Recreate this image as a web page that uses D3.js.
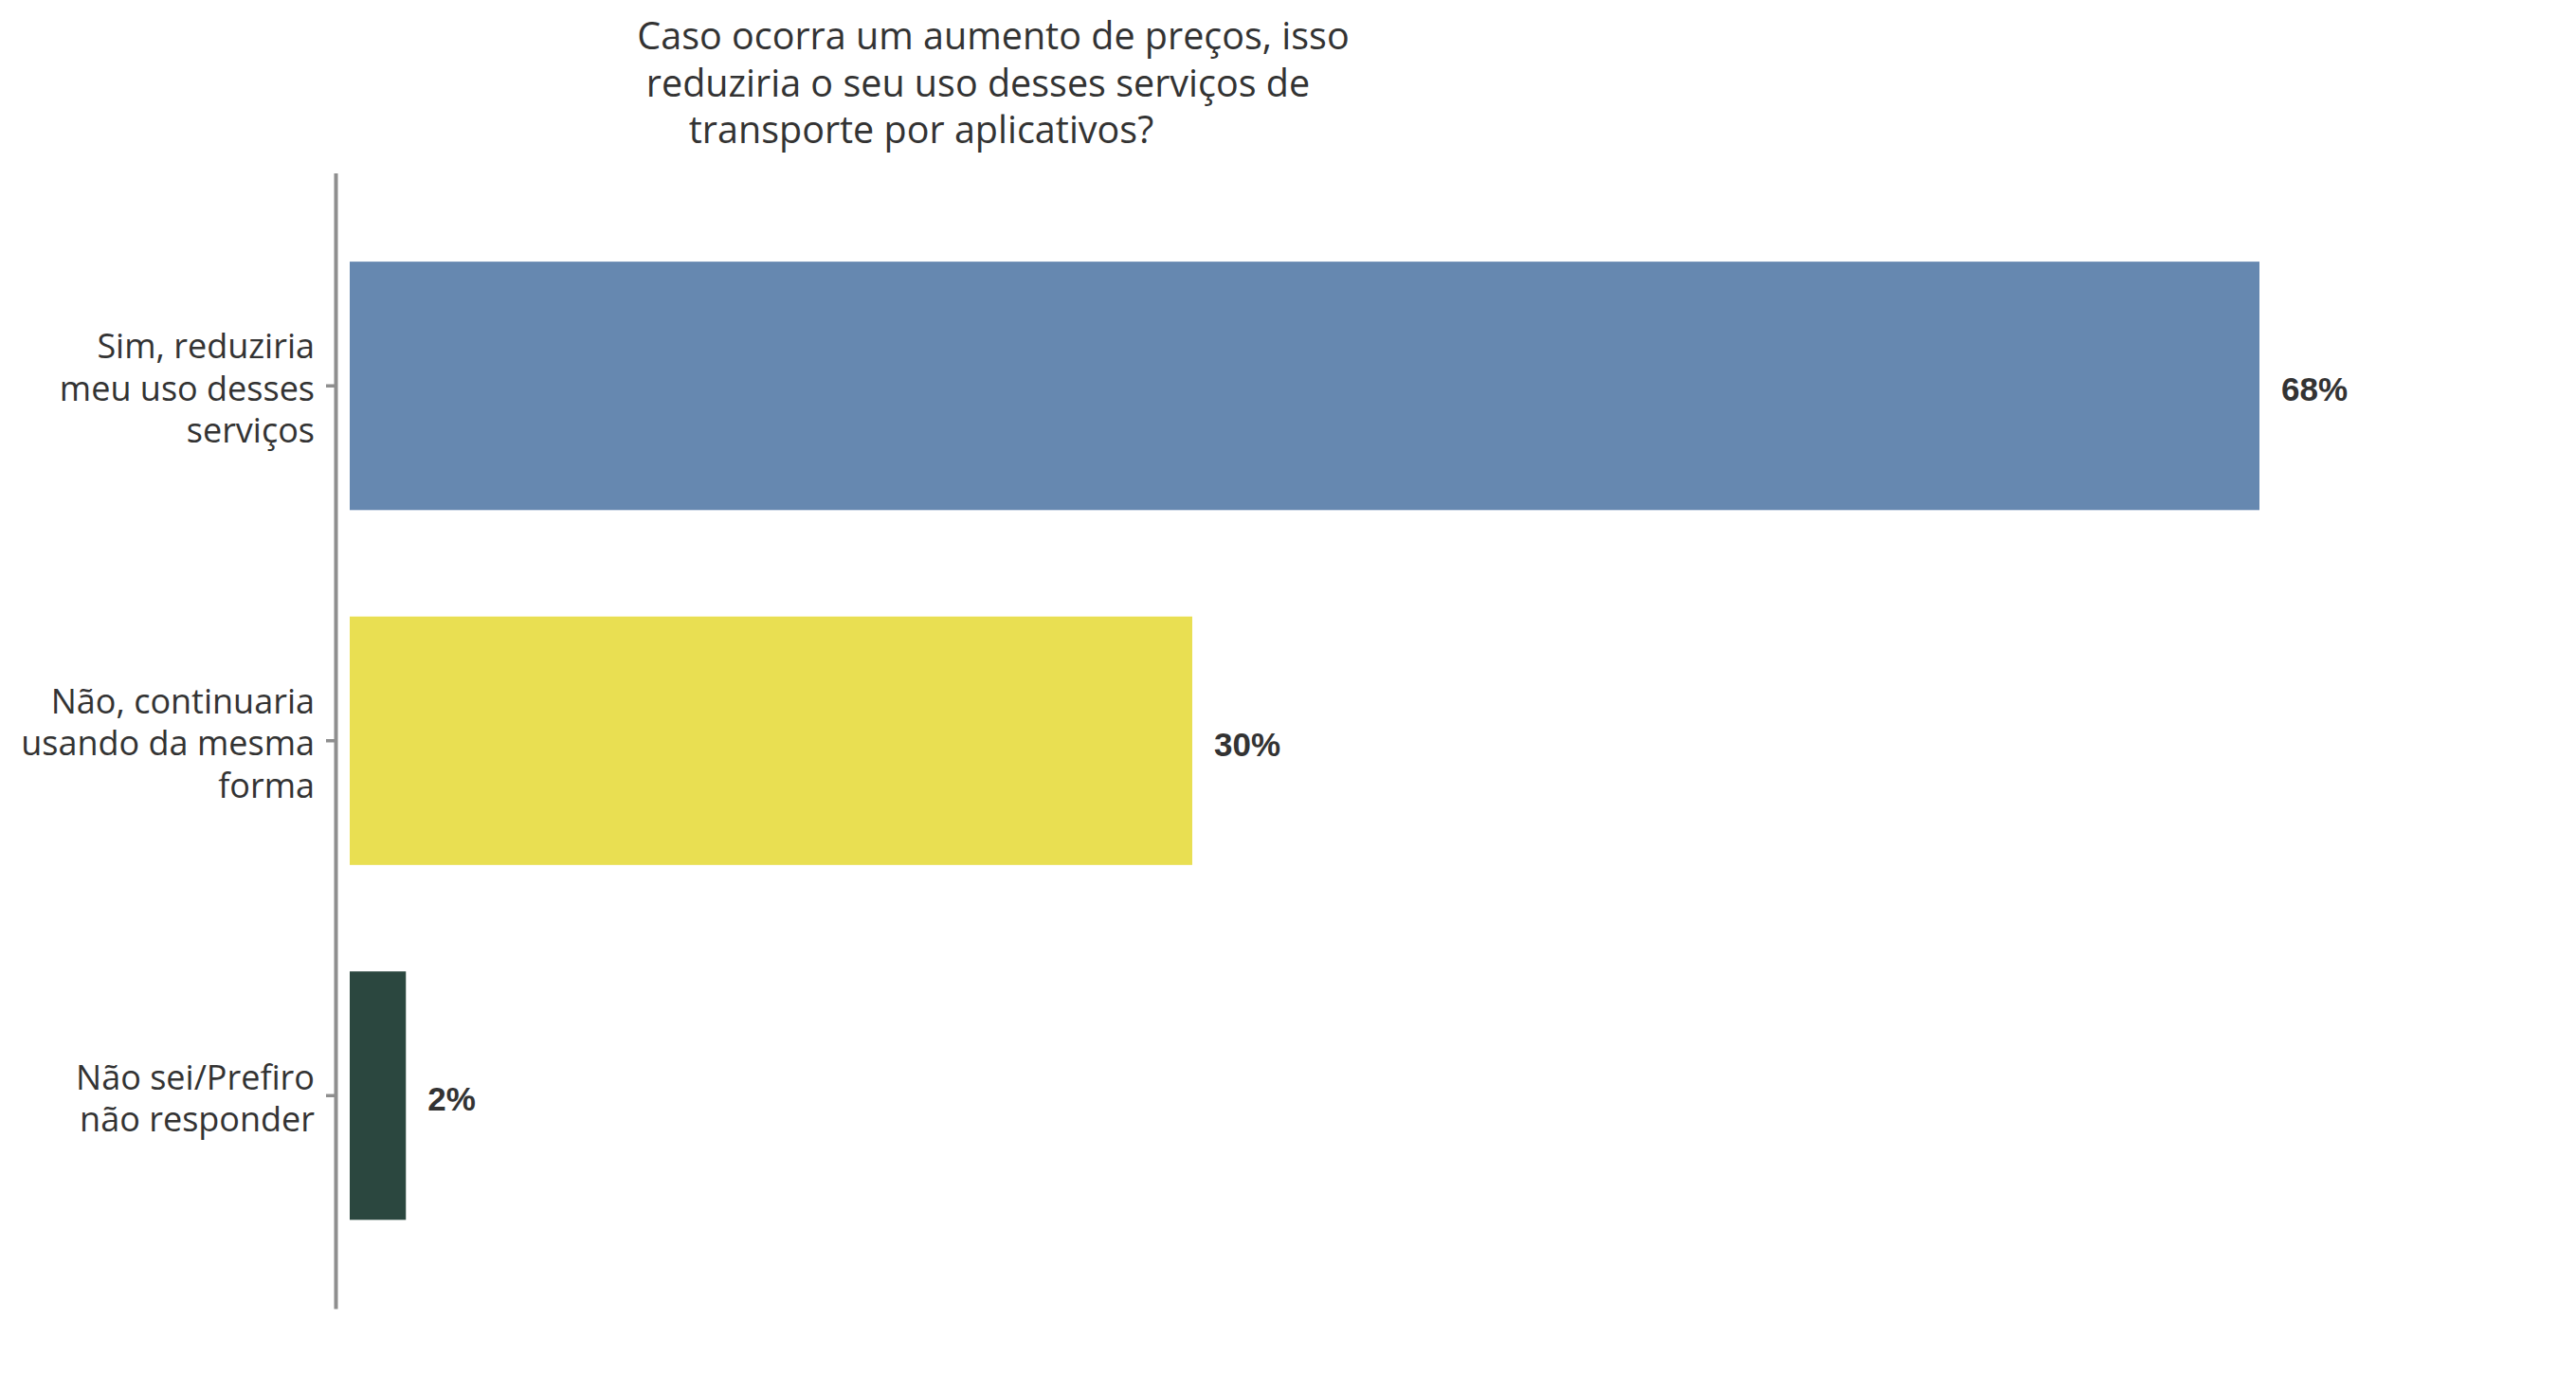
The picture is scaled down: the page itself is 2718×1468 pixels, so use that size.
<!DOCTYPE html>
<html>
<head>
<meta charset="utf-8">
<script src="https://cdn.jsdelivr.net/npm/d3@7"></script>
<style>
  html, body { margin: 0; padding: 0; background: #ffffff; }
  svg { display: block; }
</style>
</head>
<body>
<svg id="chart" width="2718" height="1468"></svg>
<script>
// ---- data ----
const titleLines = [
  "Caso ocorra um aumento de preços, isso",
  "reduziria o seu uso desses serviços de",
  "transporte por aplicativos?"
];
const categories = [
  "Sim, reduziria\nmeu uso desses\nserviços",
  "Não, continuaria\nusando da mesma\nforma",
  "Não sei/Prefiro\nnão responder"
];
const values = [68, 30, 2];
const barColors = ["#6688B0", "#E9DF52", "#2B473F"];

// ---- layout ----
const W = 2718, H = 1468;
const svg = d3.select("#chart");
const textColor = "#333333";
const labelFont = "'Open Sans', 'Noto Sans', sans-serif";

const x = d3.scaleLinear().domain([0, 68]).range([369, 2384]);
const y = d3.scaleBand().domain(categories).range([182.5, 1381])
  .paddingInner(0.3).paddingOuter(0.25);

// title
const titleCenters = [1048, 1032, 972];
svg.append("g").selectAll("text").data(titleLines).join("text")
  .attr("x", (d, i) => titleCenters[i])
  .attr("y", (d, i) => 52 + i * 49.5)
  .attr("text-anchor", "middle")
  .attr("font-family", labelFont)
  .attr("font-size", 39.5)
  .attr("fill", textColor)
  .text(d => d);

// bars
svg.append("g").selectAll("rect").data(values).join("rect")
  .attr("x", x(0))
  .attr("y", (d, i) => y(categories[i]))
  .attr("width", d => x(d) - x(0))
  .attr("height", y.bandwidth())
  .attr("fill", (d, i) => barColors[i]);

// axis
const axisG = svg.append("g")
  .attr("transform", "translate(354,0)")
  .call(d3.axisLeft(y).tickSize(10).tickSizeOuter(0).tickFormat(""));
axisG.select(".domain").attr("stroke", "#8f8f8f").attr("stroke-width", 4);
axisG.selectAll(".tick line").attr("stroke", "#8f8f8f").attr("stroke-width", 3.5);

// category labels
const lineH = 44.5;
svg.append("g").selectAll("text").data(categories).join("text")
  .attr("text-anchor", "end")
  .attr("font-family", labelFont)
  .attr("font-size", 36)
  .attr("fill", textColor)
  .each(function(d) {
    const lines = d.split("\n");
    const cy = y(d) + y.bandwidth() / 2 + 15.5;
    const start = cy - (lines.length - 1) * lineH / 2;
    d3.select(this).selectAll("tspan").data(lines).join("tspan")
      .attr("x", 332)
      .attr("y", (l, j) => start + j * lineH)
      .text(l => l);
  });

// value labels
svg.append("g").selectAll("text").data(values).join("text")
  .attr("x", d => x(d) + 23)
  .attr("y", (d, i) => y(categories[i]) + y.bandwidth() / 2 + 16)
  .attr("font-family", "'Liberation Sans', Arial, sans-serif")
  .attr("font-weight", "bold")
  .attr("font-size", 35)
  .attr("fill", textColor)
  .text(d => d + "%");
</script>
</body>
</html>
